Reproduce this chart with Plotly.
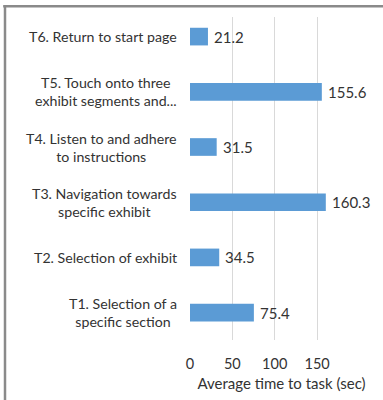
import plotly.graph_objects as go

categories = ["T1", "T2", "T3", "T4", "T5", "T6"]
labels = [
    "T1. Selection of a<br>specific section",
    "T2. Selection of exhibit",
    "T3. Navigation towards<br>specific exhibit",
    "T4. Listen to and adhere<br>to instructions",
    "T5. Touch onto three<br>exhibit segments and...",
    "T6. Return to start page",
]
values = [75.4, 34.5, 160.3, 31.5, 155.6, 21.2]
tick_vals = [0, 50, 100, 150]

W, H = 383, 400
ML, MR, MT, MB = 190, 10, 17, 53
FONT = "Lato"
TXT = "#333333"

fig = go.Figure()
fig.add_trace(go.Bar(
    x=values, y=categories, orientation="h",
    marker=dict(color="#5B9BD5", line=dict(width=0)),
    width=0.32,
    cliponaxis=False,
))

for c, lab, v in zip(categories, labels, values):
    fig.add_annotation(
        x=0, y=c, xref="x", yref="y", text=lab, showarrow=False,
        xanchor="right", yanchor="middle", align="center", xshift=-11,
        font=dict(family=FONT, size=14.2, color=TXT),
    )
    fig.add_annotation(
        x=v, y=c, xref="x", yref="y", text=f"{v:.1f}", showarrow=False,
        xanchor="left", yanchor="middle", xshift=4,
        font=dict(family=FONT, size=15, color=TXT),
    )

pw = W - ML - MR
ph = H - MT - MB
# border lines (top and left)
top_y = (H - 6 - MB) / ph
left_x = (5 - ML) / pw
fig.add_shape(type="line", xref="paper", yref="paper",
              x0=left_x - 0.01, x1=(W - ML) / pw + 0.01, y0=top_y, y1=top_y,
              line=dict(color="#8a8a8a", width=2.5))
fig.add_shape(type="line", xref="paper", yref="paper",
              x0=left_x, x1=left_x, y0=top_y, y1=(-MB - 10) / ph,
              line=dict(color="#8a8a8a", width=2.5))

fig.update_layout(
    width=W, height=H,
    margin=dict(l=ML, r=MR, t=MT, b=MB),
    paper_bgcolor="white", plot_bgcolor="white",
    showlegend=False,
    xaxis=dict(
        range=[0, 216], tickvals=tick_vals, showgrid=True,
        gridcolor="#d9d9d9", gridwidth=1, zeroline=False, showline=False,
        ticks="outside", ticklen=11, tickcolor="rgba(0,0,0,0)",
        tickfont=dict(family=FONT, size=14.5, color=TXT),
        title=dict(text="Average time to task (sec)", standoff=7,
                   font=dict(family=FONT, size=15, color=TXT)),
        fixedrange=True,
    ),
    yaxis=dict(showticklabels=False, showgrid=False, zeroline=False,
               categoryorder="array", categoryarray=categories,
               range=[-0.496, 5.355], fixedrange=True),
)

fig.write_html("out.html")
